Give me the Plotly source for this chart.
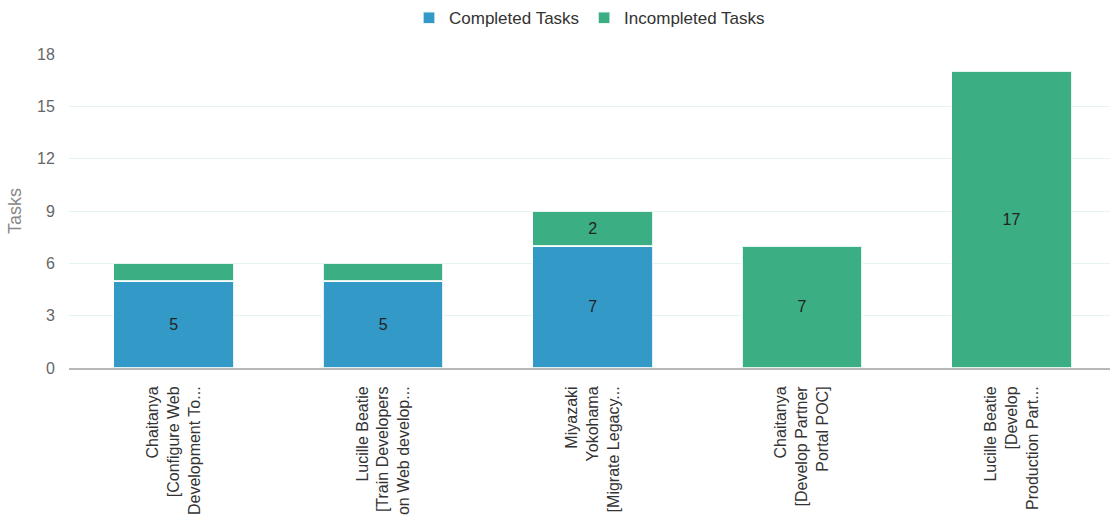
import plotly.graph_objects as go

categories = [
    "Chaitanya<br>[Configure Web<br>Development To...",
    "Lucille Beatie<br>[Train Developers<br>on Web develop...",
    "Miyazaki<br>Yokohama<br>[Migrate Legacy...",
    "Chaitanya<br>[Develop Partner<br>Portal POC]",
    "Lucille Beatie<br>[Develop<br>Production Part...",
]
completed = [5, 5, 7, 0, 0]
incompleted = [1, 1, 2, 7, 17]
y_ticks = [0, 3, 6, 9, 12, 15, 18]

BLUE = "#3399c6"
GREEN = "#3bae84"
FONT = "Arial, Liberation Sans, sans-serif"


def labels(vals):
    return [str(v) if v >= 2 else "" for v in vals]


fig = go.Figure()
fig.add_trace(go.Bar(
    name="Completed Tasks", x=list(range(len(categories))), y=completed,
    marker=dict(color=BLUE, line=dict(color="rgba(255,255,255,0.85)", width=1.5)),
    text=labels(completed), textposition="inside", insidetextanchor="middle",
    textangle=0, textfont=dict(size=16, color="#222222", family=FONT),
    hoverinfo="skip",
))
fig.add_trace(go.Bar(
    name="Incompleted Tasks", x=list(range(len(categories))), y=incompleted,
    marker=dict(color=GREEN, line=dict(color="rgba(255,255,255,0.85)", width=1.5)),
    text=labels(incompleted), textposition="inside", insidetextanchor="middle",
    textangle=0, textfont=dict(size=16, color="#222222", family=FONT),
    hoverinfo="skip",
))

fig.update_layout(
    barmode="stack",
    bargap=0.427,
    width=1110, height=529,
    margin=dict(l=69, r=0, t=52, b=161),
    paper_bgcolor="white", plot_bgcolor="white",
    font=dict(family=FONT, size=15, color="#333333"),
    showlegend=True,
    legend=dict(
        orientation="h", x=0.5, xanchor="center", y=1.114, yanchor="middle",
        font=dict(size=17, color="#333333"), traceorder="normal",
        itemclick=False, itemdoubleclick=False,
    ),
    uniformtext=dict(minsize=10, mode="show"),
)
fig.update_xaxes(
    tickmode="array", tickvals=list(range(len(categories))), ticktext=categories,
    range=[-0.5, 4.47], tickangle=-90,
    tickfont=dict(size=16, color="#333333"),
    showline=True, linecolor="#b8b8b8", linewidth=2,
    showgrid=False, zeroline=False,
    ticks="outside", ticklen=10, tickcolor="rgba(0,0,0,0)",
    automargin=False,
)
fig.update_yaxes(
    range=[0, 18], tickvals=y_ticks,
    tickfont=dict(size=16, color="#666666"),
    showgrid=True, gridcolor="#e3f5ec", gridwidth=1,
    zeroline=False, showline=False,
    ticks="outside", ticklen=10, tickcolor="rgba(0,0,0,0)",
    title=dict(text="Tasks", font=dict(size=18, color="#888888"), standoff=10),
    automargin=False,
)

fig.write_html(
    "out.html",
    config={"displayModeBar": False},
    post_script="document.body.style.margin='0';document.body.style.overflow='hidden';",
)
